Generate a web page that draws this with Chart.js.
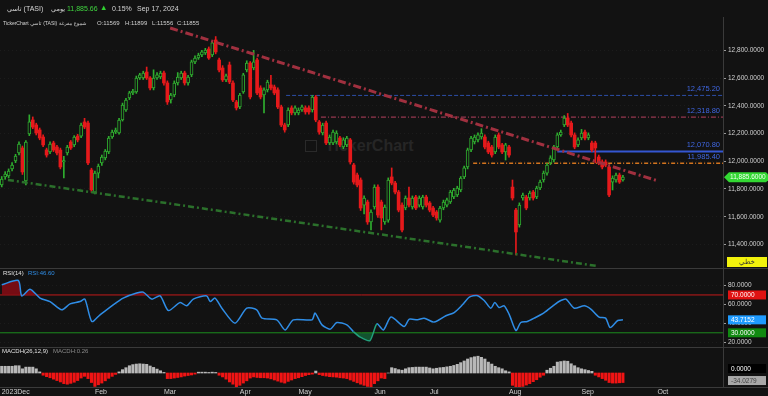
<!DOCTYPE html>
<html>
<head>
<meta charset="utf-8">
<script src="https://cdn.jsdelivr.net/npm/chart.js"></script>
<style>
body{margin:0;background:#121212;width:768px;height:396px;overflow:hidden;position:relative;font-family:"Liberation Sans",Arial,"DejaVu Sans",sans-serif;}
#chart{position:absolute;left:0;top:0;}
.hd{position:absolute;white-space:nowrap;color:#d6d6d6;font-size:7px;line-height:8px;}
.l2{font-size:6px;line-height:7px;color:#cfcfcf;}
.ar{font-family:"DejaVu Sans",sans-serif;font-size:5px;}
.nm{font-size:5.2px;letter-spacing:-0.1px;}
#wm{position:absolute;left:305px;top:137px;color:#262626;font:bold 16px "Liberation Sans",Arial,sans-serif;white-space:nowrap;}
#wm span{display:inline-block;width:10px;height:10px;border:1px solid #2a2a2a;margin-right:8px;vertical-align:-1px;}
</style>
</head>
<body>
<div id="wm"><span></span>TickerChart</div>
<canvas id="chart" width="768" height="396"></canvas>
<div class="hd" style="left:7px;top:5px"><span class="ar" style="font-size:6.5px">تاسي</span> (TASI)</div>
<div class="hd ar" style="left:51px;top:5px;font-size:6.5px">يومي</div>
<div class="hd" style="left:67px;top:5px;color:#3fd43f">11,885.66</div>
<div class="hd" style="left:100px;top:4px;color:#2fd02f;font-size:7.5px">▲</div>
<div class="hd" style="left:112px;top:5px">0.15%</div>
<div class="hd" style="left:137px;top:5px">Sep 17, 2024</div>
<div class="hd l2" style="left:3px;top:20px"><span class="nm">TickerChart</span> <span class="ar">تاسي</span> <span class="nm">(TASI)</span> <span class="ar">شموع مفرغة</span></div>
<div class="hd l2" style="left:97px;top:20px">O:11569</div>
<div class="hd l2" style="left:125px;top:20px">H:11899</div>
<div class="hd l2" style="left:152px;top:20px">L:11556</div>
<div class="hd l2" style="left:177px;top:20px">C:11855</div>
<div class="hd l2" style="left:3px;top:270px;color:#e0e0e0">RSI(14)</div>
<div class="hd l2" style="left:28px;top:270px;color:#2f8de6">RSI:46.60</div>
<div class="hd l2" style="left:2px;top:348px;color:#e0e0e0">MACDH(26,12,9)</div>
<div class="hd l2" style="left:53px;top:348px;color:#8a8a8a">MACDH:0.26</div>
<script>
// x-axis month marks (bar index) and names
var monthTicks = [0, 27, 47, 69, 86, 108, 124, 147, 168, 190];
var monthNames = ['2023Dec', 'Feb', 'Mar', 'Apr', 'May', 'Jun', 'Jul', 'Aug', 'Sep', 'Oct'];

// daily candles, Dec 2023 -> Sep 17 2024
var open = [11829,11887,11894,11944,12002,12060,12096,11858,12197,12298,
12262,12226,12175,12082,12067,12132,12103,12081,11995,12060,
12139,12118,12182,12182,12284,12276,11937,11778,11915,11988,
12024,12067,12175,12211,12204,12298,12370,12457,12493,12500,
12601,12601,12644,12601,12529,12601,12608,12637,12565,12442,
12478,12565,12601,12637,12565,12623,12717,12745,12767,12782,
12810,12767,12875,12731,12673,12587,12695,12565,12428,12392,
12500,12659,12709,12673,12731,12529,12478,12515,12551,12536,
12515,12392,12262,12262,12385,12349,12349,12370,12385,12385,
12370,12464,12284,12204,12276,12132,12132,12139,12168,12103,
12118,12154,11973,11901,11865,11684,11706,11562,11670,11814,
11706,11562,11576,11887,11843,11778,11684,11663,11735,11670,
11742,11684,11670,11742,11699,11663,11634,11576,11663,11684,
11706,11742,11757,11793,11887,11959,12082,12139,12154,12175,
12175,12132,12103,12067,12190,12118,12067,12103,11814,11648,
11540,11735,11742,11735,11778,11742,11807,11865,11915,11988,
12009,12103,12190,12262,12312,12276,12190,12118,12168,12211,
12168,12132,12132,12031,11995,11995,11959,11850,11865,11901,
11865];
var close = [11872,11908,11930,11973,12038,12125,11923,12139,12284,12247,
12204,12168,12118,12045,12125,12081,12060,11959,12005,12103,
12096,12175,12154,12262,12247,11988,11793,11915,11966,12031,
12074,12168,12211,12226,12298,12406,12442,12493,12507,12601,
12623,12637,12601,12529,12601,12623,12637,12565,12428,12478,
12565,12608,12637,12565,12608,12717,12745,12767,12789,12803,
12745,12854,12789,12659,12587,12616,12572,12442,12385,12478,
12623,12709,12464,12717,12493,12464,12515,12572,12529,12493,
12392,12262,12226,12370,12349,12385,12370,12392,12356,12356,
12464,12298,12211,12262,12132,12175,12211,12204,12118,12154,
12168,11995,11850,11829,11663,11735,11562,11634,11814,11612,
11591,11670,11865,11843,11778,11648,11504,11735,11684,11735,
11663,11735,11742,11684,11648,11612,11591,11663,11706,11721,
11778,11793,11807,11879,11952,12082,12168,12175,12190,12204,
12103,12067,12045,12175,12103,12067,12118,12045,11735,11490,
11684,11757,11663,11771,11735,11807,11850,11915,11973,12024,
12103,12190,12211,12312,12262,12190,12103,12154,12204,12168,
12190,12082,12096,11988,11959,11973,11757,11879,11901,11850,
11886];
var high = [11890,11925,11945,11990,12050,12140,12110,12150,12335,12320,
12275,12240,12190,12095,12140,12145,12115,12095,12035,12115,
12150,12185,12195,12275,12310,12290,11950,11930,11980,12045,
12085,12180,12225,12240,12310,12420,12455,12505,12520,12615,
12635,12650,12680,12612,12660,12640,12650,12650,12580,12490,
12580,12640,12650,12650,12620,12730,12760,12780,12800,12815,
12825,12865,12900,12745,12690,12630,12716,12580,12440,12490,
12635,12725,12720,12800,12745,12545,12530,12585,12620,12550,
12530,12405,12275,12385,12400,12400,12385,12405,12400,12400,
12475,12475,12295,12275,12290,12190,12225,12220,12180,12170,
12180,12165,11985,11915,11880,11750,11720,11650,11830,11830,
11720,11685,11880,11952,11855,11790,11700,11750,11814,11750,
11755,11750,11755,11755,11710,11675,11645,11675,11720,11735,
11790,11805,11820,11890,11965,12095,12180,12190,12205,12235,
12190,12145,12115,12190,12205,12130,12130,12115,11865,11660,
11700,11770,11755,11785,11790,11820,11865,11930,11985,12040,
12115,12205,12225,12330,12345,12290,12205,12170,12230,12225,
12205,12145,12145,12045,12010,12010,11970,11895,11915,11915,
11899];
var low = [11815,11870,11880,11930,11990,12045,11905,11829,12185,12235,
12190,12155,12105,12030,12055,12070,12045,11945,11880,12045,
12085,12105,12140,12170,12235,11975,11775,11765,11880,11970,
12010,12055,12165,12200,12195,12290,12360,12445,12480,12490,
12590,12590,12590,12515,12515,12590,12595,12550,12410,12420,
12465,12550,12590,12550,12550,12610,12705,12735,12755,12770,
12735,12755,12775,12645,12575,12575,12560,12430,12370,12380,
12490,12645,12450,12660,12480,12450,12349,12500,12515,12480,
12380,12250,12210,12250,12335,12335,12335,12360,12340,12340,
12355,12285,12195,12190,12120,12120,12120,12125,12105,12090,
12105,11980,11835,11815,11645,11620,11545,11504,11655,11595,
11505,11545,11560,11830,11765,11635,11490,11650,11670,11655,
11650,11670,11655,11670,11635,11600,11575,11560,11650,11670,
11695,11730,11745,11780,11875,11945,12070,12125,12140,12160,
12090,12055,12030,12055,12090,12055,12009,12030,11720,11324,
11525,11720,11650,11720,11720,11730,11795,11850,11900,11975,
11995,12090,12180,12250,12250,12175,12090,12105,12155,12155,
12155,12070,11988,11975,11945,11960,11745,11793,11850,11840,
11856];

// MACD histogram, one bar per candle
var macdHist = [24,24,24,24,26,26,15,21,21,21,
15,4,-8,-13,-17,-22,-27,-32,-38,-40,
-37,-33,-27,-18,-12,-20,-34,-48,-42,-36,
-28,-19,-12,-5,4,12,19,26,30,32,
33,32,31,25,20,14,8,2,-20,-20,
-18,-16,-14,-11,-9,-7,-4,3,3,3,
2,3,2,-8,-14,-22,-32,-40,-50,-44,
-36,-28,-18,-14,-16,-17,-17,-18,-21,-25,
-29,-33,-36,-30,-25,-20,-17,-13,-9,-6,
-4,7,-6,-9,-11,-13,-14,-15,-17,-18,
-20,-25,-30,-35,-40,-44,-48,-50,-38,-28,
-18,-20,0,19,16,12,10,15,19,20,
21,21,21,21,18,15,17,19,20,22,
24,27,31,37,43,50,55,58,60,56,
50,39,32,24,19,15,8,4,-44,-52,
-50,-48,-43,-38,-31,-24,-15,-8,10,17,
24,39,41,43,42,33,26,19,15,12,
9,6,-8,-14,-20,-26,-34,-36,-36,-35,
-34.0279];

// RSI(14) read at bar positions
var rsiIdx = [0,4.8,5.8,8.2,11.1,14,17.4,19.8,22.7,24.1,26.1,28.5,32.3,35.2,39.1,41,43.5,45.9,48.3,51.7,
53.6,55.5,59.4,60.4,61.8,63.8,67.6,71,73.9,75.4,79.7,82.1,84.5,89.9,90.8,92.8,95.2,97.1,100,101.9,
103.9,106.7,108.7,110.6,112.8,116.6,118.1,120.5,122.4,125.3,128.7,131.1,133.5,135.5,137.7,139.8,141.7,142.9,144.1,145.6,
147.1,149,150.4,152.3,154.3,157.2,160.1,162,163.5,165.9,168.8,170.7,173.1,175,176.3,178.5,180];
var rsiVal = [80.7,85.3,69,76,66.7,63,54.3,60.6,63,65.6,42,49,59.6,66.7,72,73,65.6,69,53.5,62,
58.5,65.6,69,63,66.7,56,40.2,56,54.3,45.5,43.7,33,43.7,43.7,50.8,38.4,33.9,40.9,38.4,31.3,
25.4,21.8,39.5,33,46.6,36.6,44.4,43.7,45.5,41.3,48,51.4,59.6,67.7,69.4,64.1,56,62,56.7,58.5,
49,32.4,40.9,42,45.5,51.4,59.6,64.1,65.6,56,58.5,55,46.6,45.5,35.6,43,43.7];
var rsiUpper = 70, rsiLower = 30;

// drawn trend lines (bar index, price)
var downTrendX = [48.8, 190.2], downTrendY = [12962, 11858];
var upTrendX = [1.8, 172.6], upTrendY = [11865, 11244];

// horizontal levels
var levelValues = [12475.20, 12318.80, 12070.80, 11985.40];
var levelFrom = [82.4, 92.5, 161, 136.6];
var levelStyle = [
  {color: '#2d4fa8', width: 1, dash: [4, 2]},
  {color: '#b8405e', width: 1, dash: [5, 2, 1, 2]},
  {color: '#3456d2', width: 2, dash: []},
  {color: '#d3741e', width: 1.5, dash: [4, 2, 1, 2]}
];

var priceTicks = [11400, 11600, 11800, 12000, 12200, 12400, 12600, 12800];
var rsiTicks = [20, 40, 60, 80];
var lastClose = 11885.6, lastRsi = 43.7152, lastMacd = -34.0279;

var X_MAX = 209;
var FONT = '"Liberation Sans", Arial, sans-serif';
var BG = '#121212';
var UP = '#2fae2f', DOWN = '#e5191b';

var isUp = open.map(function(o, i) { return close[i] >= o; });
var wickData = open.map(function(o, i) { return {x: i, y: [low[i], high[i]]}; });
var bodyData = open.map(function(o, i) { return {x: i, y: [o, close[i]]}; });
var macdData = macdHist.map(function(v, i) { return {x: i, y: v}; });
var rsiData = rsiIdx.map(function(x, i) { return {x: x, y: rsiVal[i]}; });

function seg(xs, ys) { return [{x: xs[0], y: ys[0]}, {x: xs[1], y: ys[1]}]; }
function fmt(v, d) { return v.toLocaleString('en-US', {minimumFractionDigits: d, maximumFractionDigits: d}); }

var datasets = [
  {type: 'line', data: seg(downTrendX, downTrendY), yAxisID: 'y', borderColor: '#a0303f', borderWidth: 3,
   borderDash: [8, 3, 2, 3], pointRadius: 0, order: 0},
  {type: 'line', data: seg(upTrendX, upTrendY), yAxisID: 'y', borderColor: '#2b702b', borderWidth: 2.5,
   borderDash: [6, 3, 2, 3], pointRadius: 0, order: 0}
];
levelValues.forEach(function(v, i) {
  datasets.push({type: 'line', data: seg([levelFrom[i], X_MAX], [v, v]), yAxisID: 'y',
    borderColor: levelStyle[i].color, borderWidth: levelStyle[i].width, borderDash: levelStyle[i].dash,
    pointRadius: 0, order: 3});
});
datasets.push(
  {type: 'bar', data: bodyData, yAxisID: 'y', grouped: false, barThickness: 3, borderSkipped: false,
   backgroundColor: isUp.map(function(u) { return u ? BG : DOWN; }),
   borderColor: isUp.map(function(u) { return u ? UP : DOWN; }),
   borderWidth: isUp.map(function(u) { return u ? 1 : 0; }), order: 1},
  {type: 'bar', data: wickData, yAxisID: 'y', grouped: false, barThickness: 1, borderSkipped: false,
   backgroundColor: isUp.map(function(u) { return u ? UP : DOWN; }), order: 2},
  {type: 'line', data: rsiData, yAxisID: 'yRsi', borderColor: '#2f8de6', borderWidth: 1.5, tension: 0.25,
   pointRadius: 0, fill: {target: {value: rsiUpper}, above: 'rgba(135,12,20,0.85)', below: 'transparent'},
   segment: {borderColor: function(c) { return (c.p0.parsed.y < rsiLower || c.p1.parsed.y < rsiLower) ? '#22a07c' : undefined; }},
   order: 0},
  {type: 'line', data: rsiData, yAxisID: 'yRsi', borderWidth: 0, tension: 0.25, pointRadius: 0,
   fill: {target: {value: rsiLower}, above: 'transparent', below: 'rgba(20,110,60,0.7)'}, order: 5},
  {type: 'line', data: seg([-0.5, X_MAX], [rsiUpper, rsiUpper]), yAxisID: 'yRsi', borderColor: '#c41a1a',
   borderWidth: 1, pointRadius: 0, order: 4},
  {type: 'line', data: seg([-0.5, X_MAX], [rsiLower, rsiLower]), yAxisID: 'yRsi', borderColor: '#1d8a1d',
   borderWidth: 1, pointRadius: 0, order: 4},
  {type: 'bar', data: macdData, yAxisID: 'yMacd', grouped: false, barThickness: 2.4,
   backgroundColor: macdHist.map(function(v) { return v >= 0 ? '#b8b8b8' : '#f01414'; }), order: 1}
);

function fixed(list) { return function(s) { s.ticks = list.map(function(v) { return {value: v}; }); }; }
function noPad(s) { s.paddingLeft = 0; s.paddingRight = 0; s.paddingTop = 0; s.paddingBottom = 0; }
function wide(s) { s.width = 45; noPad(s); }
var tickFont = {family: FONT, size: 6.5};

var overlay = {
  id: 'overlay',
  afterDatasetsDraw: function(chart) {
    var c = chart.ctx, y = chart.scales.y, a = chart.chartArea;
    c.save();
    c.font = '7.5px ' + FONT;
    c.fillStyle = '#3f66e0';
    c.textAlign = 'right';
    c.textBaseline = 'middle';
    levelValues.forEach(function(v) { c.fillText(fmt(v, 2), a.right - 3, y.getPixelForValue(v) - 6.5); });
    c.restore();
  },
  afterDraw: function(chart) {
    var c = chart.ctx, a = chart.chartArea, s = chart.scales;
    c.save();
    c.strokeStyle = '#3a3a3a';
    c.lineWidth = 1;
    [s.yRsi.top, s.yMacd.top, a.bottom].forEach(function(t) {
      c.beginPath(); c.moveTo(0, Math.round(t) + 0.5); c.lineTo(768, Math.round(t) + 0.5); c.stroke();
    });
    c.beginPath(); c.moveTo(Math.round(a.right) + 0.5, a.top); c.lineTo(Math.round(a.right) + 0.5, a.bottom); c.stroke();
    c.font = '6.5px ' + FONT;
    c.textBaseline = 'middle';
    c.textAlign = 'left';
    function tag(yc, bg, fg, text, x0) {
      x0 = x0 || 728;
      c.fillStyle = bg; c.fillRect(x0, yc - 4.5, 766 - x0, 9);
      c.fillStyle = fg; c.fillText(text, x0 + 3, yc + 0.5);
    }
    // price tag
    var py = s.y.getPixelForValue(lastClose);
    c.fillStyle = '#33d833';
    c.beginPath();
    c.moveTo(724, py); c.lineTo(729, py - 5); c.lineTo(766, py - 5); c.lineTo(768, py - 3);
    c.lineTo(768, py + 3); c.lineTo(766, py + 5); c.lineTo(729, py + 5); c.closePath(); c.fill();
    c.fillStyle = '#f4fff4'; c.fillText(fmt(lastClose, 4), 730, py + 0.5);
    // style tag
    c.fillStyle = '#f2f20c';
    c.fillRect(727, s.y.bottom - 11, 40, 10);
    c.fillStyle = '#333'; c.textAlign = 'center';
    c.font = '7px "DejaVu Sans", sans-serif';
    c.fillText('خطي', 747, s.y.bottom - 6);
    c.textAlign = 'left'; c.font = '6.5px ' + FONT;
    tag(s.yRsi.getPixelForValue(rsiUpper), '#e01212', '#fff', fmt(rsiUpper, 4));
    tag(s.yRsi.getPixelForValue(lastRsi), '#1e9bff', '#fff', fmt(lastRsi, 4));
    tag(s.yRsi.getPixelForValue(rsiLower), '#118a11', '#fff', fmt(rsiLower, 4));
    tag(s.yMacd.getPixelForValue(0) - 4.5, '#000', '#fff', fmt(0, 4));
    tag(s.yMacd.getPixelForValue(lastMacd) - 2, '#a8a8a8', '#444', fmt(lastMacd, 4));
    c.restore();
  }
};

new Chart(document.getElementById('chart'), {
  data: {datasets: datasets},
  options: {
    responsive: false,
    animation: false,
    layout: {padding: {top: 17, left: 0, right: 0, bottom: 0}},
    plugins: {legend: {display: false}, tooltip: {enabled: false}},
    scales: {
      x: {type: 'linear', offset: false, min: -0.5, max: X_MAX, grid: {display: false, drawTicks: false, offset: false}, border: {display: false},
          afterBuildTicks: fixed(monthTicks), afterFit: function(s) { s.height = 9; noPad(s); },
          ticks: {align: 'start', padding: 1, color: '#d0d0d0', font: {family: FONT, size: 7}, maxRotation: 0, autoSkip: false,
                  callback: function(v, i) { return monthNames[i]; }}},
      y: {position: 'right', stack: 'panes', stackWeight: 251, min: 11230, max: 13041,
          afterBuildTicks: fixed(priceTicks), afterFit: wide,
          grid: {color: 'rgba(255,255,255,0.045)', tickColor: '#999', tickLength: 3},
          border: {color: '#3a3a3a', dash: [1, 3]},
          ticks: {color: '#d0d0d0', font: tickFont, padding: 2, callback: function(v) { return fmt(v, 4); }}},
      yRsi: {position: 'right', stack: 'panes', stackWeight: 79, min: 15, max: 98.5,
          afterBuildTicks: fixed(rsiTicks), afterFit: wide,
          grid: {color: 'rgba(255,255,255,0.045)', tickColor: '#999', tickLength: 3},
          border: {color: '#3a3a3a', dash: [1, 3]},
          ticks: {color: '#d0d0d0', font: tickFont, padding: 2, callback: function(v) { return fmt(v, 4); }}},
      yMacd: {position: 'right', stack: 'panes', stackWeight: 40, min: -50, max: 92.9,
          afterBuildTicks: fixed([0]), afterFit: wide,
          grid: {display: false}, border: {color: '#3a3a3a'},
          ticks: {display: false}}
    }
  },
  plugins: [overlay]
});
</script>
</body>
</html>
